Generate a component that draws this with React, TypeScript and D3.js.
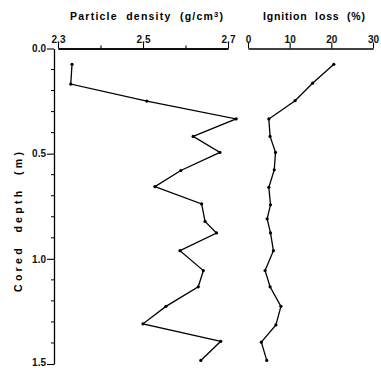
import { useEffect, useRef } from 'react'
import * as d3 from 'd3'

// depth (m) of each sample
const depthDensity = [0.075, 0.169, 0.25, 0.335, 0.418, 0.494, 0.58, 0.657, 0.739, 0.822, 0.877, 0.961, 1.056, 1.133, 1.226, 1.309, 1.392, 1.483]
const density = [2.333, 2.33, 2.509, 2.719, 2.618, 2.681, 2.589, 2.528, 2.638, 2.646, 2.673, 2.587, 2.642, 2.63, 2.554, 2.5, 2.683, 2.636]

const depthLoss = [0.075, 0.165, 0.248, 0.335, 0.418, 0.494, 0.577, 0.66, 0.743, 0.81, 0.877, 0.961, 1.056, 1.133, 1.226, 1.314, 1.396, 1.483]
const ignitionLoss = [20.6, 15.5, 11.3, 5.0, 5.3, 6.6, 6.3, 5.0, 5.4, 4.6, 5.4, 6.1, 4.1, 5.3, 7.9, 6.7, 3.2, 4.5]

const depthTicks = [0, 0.5, 1.0, 1.5]
const densityTicks = [2.3, 2.5, 2.7]
const densityMinor = [2.4, 2.6]
const lossTicks = [0, 10, 20, 30]

const W = 381
const H = 368

export default function App() {
  const svgRef = useRef<SVGSVGElement | null>(null)

  useEffect(() => {
    const svg = d3.select(svgRef.current)
    svg.selectAll('*').remove()

    const y = d3.scaleLinear().domain([0, 1.5]).range([48.5, 364])
    const xD = d3.scaleLinear().domain([2.3, 2.7]).range([58, 228])
    const xL = d3.scaleLinear().domain([0, 30]).range([248, 373])

    const font = "'Liberation Sans', Arial, sans-serif"

    // left depth axis
    const gy = svg.append('g').attr('transform', 'translate(54,0)')
    gy.call(
      d3.axisLeft(y).tickValues(depthTicks).tickSize(7).tickSizeOuter(0).tickFormat(d3.format('.1f')) as any
    )
    gy.call((g) =>
      g
        .selectAll('.minor')
        .data(d3.range(1, 15).filter((i) => i % 5 !== 0).map((i) => i / 10))
        .join('line')
        .attr('class', 'minor')
        .attr('x1', -3)
        .attr('x2', 0)
        .attr('y1', (d) => y(d))
        .attr('y2', (d) => y(d))
        .attr('stroke', '#000')
    )

    // density top axis
    const gd = svg.append('g').attr('transform', 'translate(0,48.5)')
    gd.call(d3.axisTop(xD).tickValues(densityTicks).tickSize(6).tickSizeOuter(0).tickFormat(d3.format('.1f')) as any)
    gd.append('g').call(d3.axisTop(xD).tickValues(densityMinor).tickSize(3).tickSizeOuter(0).tickFormat(() => '') as any)

    // ignition loss top axis
    const gl = svg.append('g').attr('transform', 'translate(0,48.5)')
    gl.call(d3.axisTop(xL).tickValues(lossTicks).tickSize(6).tickSizeOuter(0) as any)

    svg.selectAll('.domain').attr('stroke', '#000').attr('stroke-width', 1.3)
    svg.selectAll('.tick line').attr('stroke', '#000').attr('stroke-width', 1.1)
    svg
      .selectAll('.tick text')
      .attr('font-family', font)
      .attr('font-size', 10)
      .attr('font-weight', 'bold')
      .attr('fill', '#111')
    gy.selectAll('.tick text').attr('x', -8)
    gy.selectAll('.tick text').filter((d) => d === 1.5).attr('dy', '0.1em')
    gd.selectAll('.tick text').attr('y', -6)
    gl.selectAll('.tick text').attr('y', -6)

    // density profile
    const dPts = density.map((v, i) => [xD(v), y(depthDensity[i])] as [number, number])
    svg
      .append('path')
      .attr('d', d3.line()(dPts))
      .attr('fill', 'none')
      .attr('stroke', '#000')
      .attr('stroke-width', 1.3)
    svg
      .append('g')
      .selectAll('circle')
      .data(dPts)
      .join('circle')
      .attr('cx', (d) => d[0])
      .attr('cy', (d) => d[1])
      .attr('r', 1.6)
      .attr('fill', '#000')

    // ignition loss profile
    const lPts = ignitionLoss.map((v, i) => [xL(v), y(depthLoss[i])] as [number, number])
    svg
      .append('path')
      .attr('d', d3.line()(lPts))
      .attr('fill', 'none')
      .attr('stroke', '#000')
      .attr('stroke-width', 1.3)
    svg
      .append('g')
      .selectAll('circle')
      .data(lPts)
      .join('circle')
      .attr('cx', (d) => d[0])
      .attr('cy', (d) => d[1])
      .attr('r', 1.6)
      .attr('fill', '#000')

    // titles
    const title = svg
      .append('text')
      .attr('x', 70)
      .attr('y', 20)
      .attr('font-family', font)
      .attr('font-size', 10.5)
      .attr('font-weight', 'bold')
      .attr('textLength', 153)
      .attr('lengthAdjust', 'spacing')
      .style('white-space', 'pre')
    title.append('tspan').text('Particle  density  (g/cm')
    title.append('tspan').text('3').attr('font-size', 7.5).attr('dy', -3.5)
    title.append('tspan').text(')').attr('dy', 3.5)

    svg
      .append('text')
      .attr('x', 263)
      .attr('y', 20)
      .attr('font-family', font)
      .attr('font-size', 10.5)
      .attr('font-weight', 'bold')
      .attr('textLength', 102)
      .attr('lengthAdjust', 'spacing')
      .style('white-space', 'pre')
      .text('Ignition  loss  (%)')

    svg
      .append('text')
      .attr('transform', 'translate(22,292) rotate(-90)')
      .attr('font-family', font)
      .attr('font-size', 10.5)
      .attr('font-weight', 'bold')
      .attr('textLength', 140)
      .attr('lengthAdjust', 'spacing')
      .style('white-space', 'pre')
      .text('Cored  depth  (m)')
  }, [])

  return (
    <svg
      ref={svgRef}
      width={W}
      height={H}
      style={{ position: 'absolute', left: 0, top: 0, background: '#fff' }}
    />
  )
}
